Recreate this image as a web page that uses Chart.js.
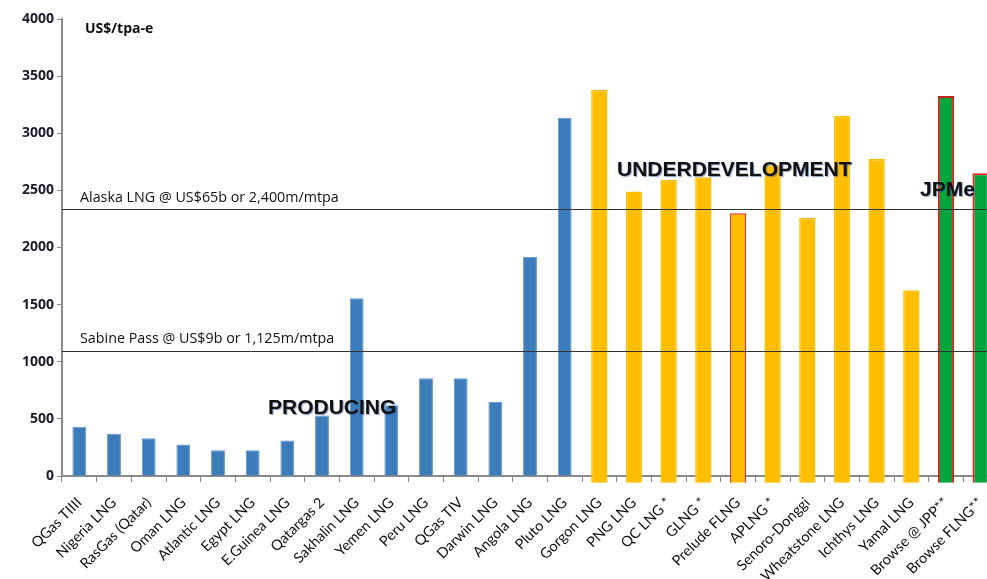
<!DOCTYPE html>
<html>
<head>
<meta charset="utf-8">
<script src="https://cdn.jsdelivr.net/npm/chart.js@4"></script>
<style>
  html, body { margin: 0; padding: 0; background: #fff; overflow: hidden; }
  #wrap { width: 998px; height: 579px; position: relative; }
</style>
</head>
<body>
<div id="wrap"><canvas id="costChart"></canvas></div>
<script>
// LNG project capex, US$/tpa-e
const categories = ['QGas TIIII', 'Nigeria LNG', 'RasGas (Qatar)', 'Oman LNG', 'Atlantic LNG', 'Egypt LNG',
    'E.Guinea LNG', 'Qatargas 2', 'Sakhalin LNG', 'Yemen LNG', 'Peru LNG', 'QGas TIV', 'Darwin LNG',
    'Angola LNG', 'Pluto LNG', 'Gorgon LNG', 'PNG LNG', 'QC LNG *', 'GLNG *', 'Prelude FLNG', 'APLNG *',
    'Senoro-Donggi', 'Wheatstone LNG', 'Ichthys LNG', 'Yamal LNG', 'Browse @ JPP**', 'Browse FLNG**'];

const producing = [430, 370, 330, 275, 225, 225, 310, 530, 1555, 620, 855, 855, 650, 1920, 3135,
    null, null, null, null, null, null, null, null, null, null, null, null];
const underDev = [null, null, null, null, null, null, null, null, null, null, null, null, null, null, null,
    3380, 2490, 2590, 2615, 2300, 2720, 2260, 3150, 2775, 1625, null, null];
const jpme = [null, null, null, null, null, null, null, null, null, null, null, null, null, null, null,
    null, null, null, null, null, null, null, null, null, null, 3325, 2650];

const yTicks = [0, 500, 1000, 1500, 2000, 2500, 3000, 3500, 4000];

// reference lines
const alaskaLine = 2340;
const sabineLine = 1095;

const BLUE = '#3C7CBA';
const GOLD = '#FFBE00';
const GREEN = '#00A53E';

// red outlines on some bars
const devBorders = underDev.map((v, i) => categories[i] === 'Prelude FLNG' ? '#F0301E' : GOLD);
const jpmeBorders = jpme.map((v, i) => i === 25 ? '#C4201A' : '#FF1A1A');

const overlay = {
    id: 'overlay',
    afterDatasetsDraw(chart) {
        const { ctx, chartArea, scales: { x, y } } = chart;
        ctx.save();
        // horizontal reference lines
        ctx.strokeStyle = '#333';
        ctx.lineWidth = 1;
        [alaskaLine, sabineLine].forEach(v => {
            const py = Math.round(y.getPixelForValue(v)) + 0.5;
            ctx.beginPath();
            ctx.moveTo(chartArea.left, py);
            ctx.lineTo(chart.width, py);
            ctx.stroke();
        });
        ctx.fillStyle = '#111';
        ctx.font = '14.3px "Open Sans"';
        ctx.textBaseline = 'alphabetic';
        ctx.fillText('Alaska LNG @ US$65b or 2,400m/mtpa', 80, y.getPixelForValue(alaskaLine) - 7);
        ctx.fillText('Sabine Pass @ US$9b or 1,125m/mtpa', 80, y.getPixelForValue(sabineLine) - 8);

        ctx.font = 'bold 14px "Open Sans"';
        ctx.fillText('US$/tpa-e', 85, 33);

        // section headings
        ctx.font = 'bold 21px "Liberation Sans"';
        ctx.shadowColor = 'rgba(40,80,160,0.55)';
        ctx.shadowOffsetX = 1;
        ctx.shadowOffsetY = 1;
        ctx.shadowBlur = 1;
        ctx.fillText('PRODUCING', 268, 414);
        ctx.fillText('UNDERDEVELOPMENT', 617, 176);
        ctx.fillText('JPMe', 920, 196);
        ctx.restore();
    }
};

new Chart(document.getElementById('costChart'), {
    type: 'bar',
    data: {
        labels: categories,
        datasets: [
            { label: 'Producing', data: producing, backgroundColor: BLUE, borderColor: '#5B93C8',
              borderWidth: 1, barPercentage: 0.4, categoryPercentage: 1 },
            { label: 'Under development', data: underDev, backgroundColor: GOLD, borderColor: devBorders,
              borderWidth: 1.5, barPercentage: 0.47, categoryPercentage: 1, base: -60, clip: false },
            { label: 'JPMe', data: jpme, backgroundColor: GREEN, borderColor: jpmeBorders,
              borderWidth: 2, barPercentage: 0.47, categoryPercentage: 1, base: -60, clip: false }
        ]
    },
    options: {
        responsive: true,
        maintainAspectRatio: false,
        animation: false,
        layout: { padding: { top: 19, right: 0, left: 0, bottom: 0 } },
        plugins: {
            legend: { display: false },
            tooltip: { enabled: false }
        },
        scales: {
            x: {
                stacked: true,
                z: 1,
                grid: { display: true, drawOnChartArea: false, tickLength: 6, color: '#8a8a8a', offset: true },
                border: { color: '#8a8a8a', width: 2 },
                ticks: {
                    color: '#111', autoSkip: false, minRotation: 45, maxRotation: 45,
                    font: { family: 'Lato', size: 14.5 }, padding: 12
                },
                afterFit(scale) {
                    scale.height = 103;
                    scale.paddingLeft = 0;
                    scale.paddingRight = 0;
                }
            },
            y: {
                stacked: true,
                z: 1,
                min: 0, max: 4000,
                afterBuildTicks(scale) { scale.ticks = yTicks.map(v => ({ value: v })); },
                grid: { display: true, drawOnChartArea: false, tickLength: 5, color: '#8a8a8a' },
                border: { color: '#8a8a8a', width: 2 },
                ticks: {
                    color: '#1a1a2a', padding: 3,
                    font: { family: 'Open Sans', size: 14, weight: 'bold' },
                    callback: v => String(v)
                },
                afterFit(scale) { scale.width = 62; }
            }
        }
    },
    plugins: [overlay]
});
</script>
</body>
</html>
